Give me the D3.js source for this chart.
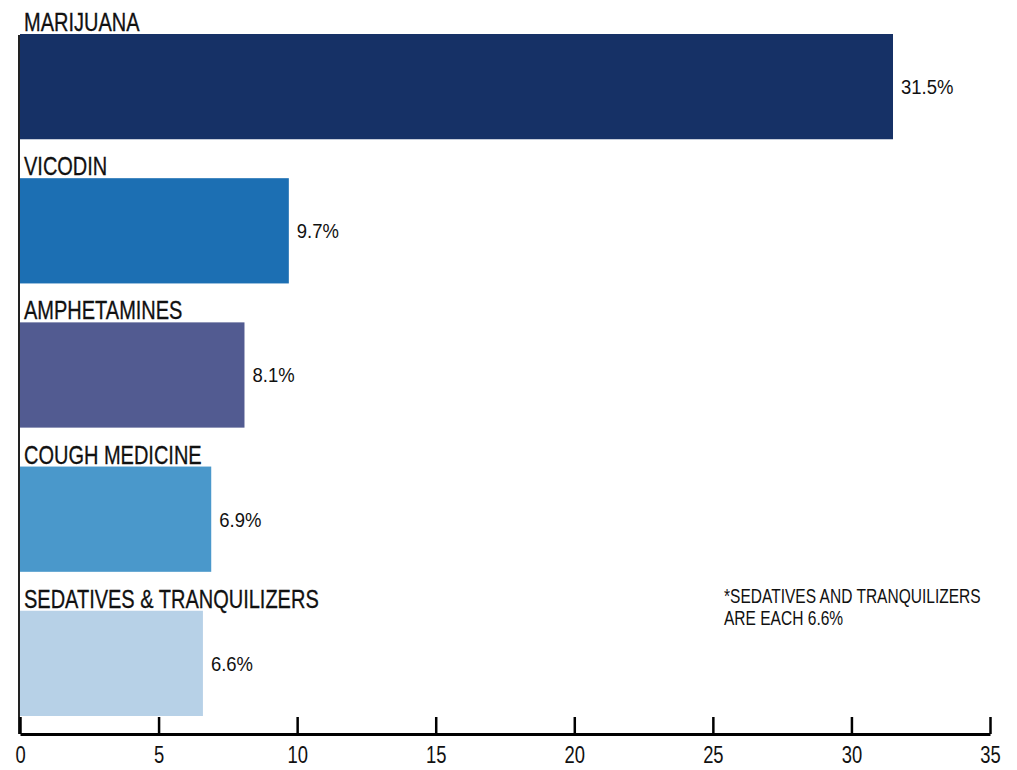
<!DOCTYPE html>
<html><head><meta charset="utf-8">
<script src="https://cdn.jsdelivr.net/npm/d3@7"></script>
<style>
body{margin:0;background:#fff;}
text{font-family:"Liberation Sans",Arial,sans-serif;fill:#111;}
</style></head>
<body>
<svg id="c" width="1017" height="770"></svg>
<script>
const categories = ["MARIJUANA","VICODIN","AMPHETAMINES","COUGH MEDICINE","SEDATIVES & TRANQUILIZERS"];
const values = [31.5, 9.7, 8.1, 6.9, 6.6];
const colors = ["#163166","#1c6fb3","#525b91","#4a98cb","#b7d1e7"];
const xTicks = [0,5,10,15,20,25,30,35];
const footnote = ["*SEDATIVES AND TRANQUILIZERS","ARE EACH 6.6%"];

const svg = d3.select("#c");
const x = d3.scaleLinear().domain([0,35]).range([20,990]);
const y = d3.scaleBand().domain(categories).range([34,716]).paddingInner(0.27).paddingOuter(0);
const axisY = 734;

// bars
svg.selectAll("rect.bar").data(categories).enter().append("rect")
  .attr("class","bar")
  .attr("x", x(0))
  .attr("y", d=>y(d))
  .attr("width", (d,i)=>x(values[i])-x(0))
  .attr("height", y.bandwidth())
  .attr("fill", (d,i)=>colors[i]);

// category labels (condensed)
svg.selectAll("text.cat").data(categories).enter().append("text")
  .attr("class","cat")
  .attr("transform", d=>`translate(24,${y(d)-3}) scale(0.8,1)`)
  .attr("font-size", 25)
  .attr("stroke","#111").attr("stroke-width",0.3)
  .text(d=>d);

// value labels
svg.selectAll("text.val").data(categories).enter().append("text")
  .attr("class","val")
  .attr("transform", (d,i)=>`translate(${x(values[i])+8},${y(d)+y.bandwidth()/2}) scale(0.88,1)`)
  .attr("dy","0.35em")
  .attr("font-size", 21)
  .text((d,i)=>values[i].toFixed(1)+"%");

// vertical axis line
svg.append("line").attr("x1",19).attr("x2",19).attr("y1",35).attr("y2",axisY)
  .attr("stroke","#222").attr("stroke-width",2);

// x axis
const xAxis = d3.axisBottom(x).tickValues(xTicks).tickSizeInner(-17).tickSizeOuter(0).tickPadding(0).tickFormat(d3.format("d"));
const g = svg.append("g").attr("transform",`translate(0,${axisY})`).call(xAxis);
g.select(".domain").attr("stroke","#000").attr("stroke-width",3);
g.selectAll(".tick line").attr("stroke","#000").attr("stroke-width",2.5);
g.selectAll(".tick text")
  .attr("font-size",23).attr("y",null).attr("dy",null)
  .attr("transform","translate(0,29) scale(0.8,1)")
  .style("font-family",'"Liberation Sans",Arial,sans-serif').attr("fill","#111");

// footnote
const fn = svg.append("text").attr("transform","translate(724,603) scale(0.74,1)").attr("font-size",21);
fn.selectAll("tspan").data(footnote).enter().append("tspan")
  .attr("x",0).attr("dy",(d,i)=>i?22:0).text(d=>d);
</script>
</body></html>
